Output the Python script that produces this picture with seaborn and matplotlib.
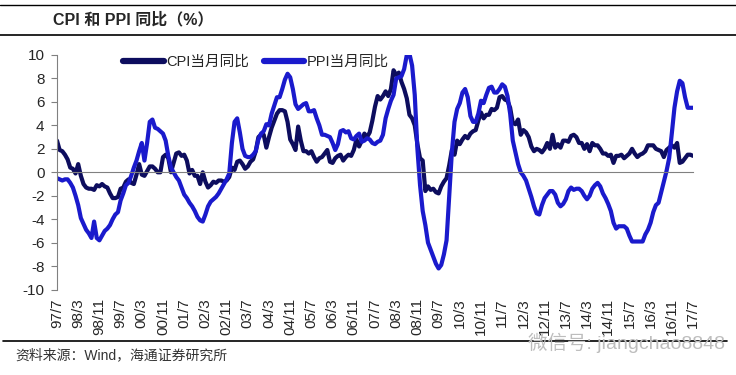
import matplotlib
matplotlib.use("Agg")
import pandas as pd
import matplotlib.pyplot as plt
import matplotlib.transforms as mtransforms
from matplotlib.lines import Line2D
import seaborn as sns

# 月度同比数据 1997/7 - 2017/7（%）
cpi = [
    2.7, 1.9, 1.8, 1.5, 1.1, 0.4,
    0.3, -0.1, 0.7, -0.3, -1.0, -1.3, -1.4, -1.4, -1.5, -1.1, -1.2, -1.0,
    -1.2, -1.3, -1.8, -2.2, -2.2, -2.1, -1.4, -1.3, -0.8, -0.6, -0.9, -1.0,
    -0.2, 0.7, -0.2, -0.3, 0.1, 0.5, 0.5, 0.3, 0.0, 0.0, 1.3, 1.5,
    1.2, 0.0, 0.8, 1.6, 1.7, 1.4, 1.5, 1.0, -0.1, 0.2, -0.3, -0.3,
    -1.0, 0.0, -0.8, -1.3, -1.1, -0.8, -0.9, -0.7, -0.7, -0.8, -0.7, -0.4,
    0.4, 0.2, 0.9, 1.0, 0.7, 0.3, 0.5, 0.9, 1.1, 1.8, 3.0, 3.2,
    3.2, 2.1, 3.0, 3.8, 4.4, 5.0, 5.3, 5.3, 5.2, 4.3, 2.8, 2.4,
    1.9, 3.9, 2.7, 1.8, 1.8, 1.6, 1.8, 1.3, 0.9, 1.2, 1.3, 1.6,
    1.9, 0.9, 0.8, 1.2, 1.4, 1.5, 1.0, 1.3, 1.5, 1.4, 1.9, 2.8,
    2.2, 2.7, 3.3, 3.0, 3.4, 4.4, 5.6, 6.5, 6.2, 6.5, 6.9, 6.5,
    7.1, 8.7, 8.3, 8.5, 7.7, 7.1, 6.3, 4.9, 4.6, 4.0, 2.4, 1.2,
    1.0, -1.6, -1.2, -1.5, -1.4, -1.7, -1.8, -1.2, -0.8, -0.5, 0.6, 1.9,
    1.5, 2.7, 2.4, 2.8, 3.1, 2.9, 3.3, 3.5, 3.6, 4.4, 5.1, 4.6,
    4.9, 4.9, 5.4, 5.3, 5.5, 6.4, 6.5, 6.2, 6.1, 5.5, 4.2, 4.1,
    4.5, 3.2, 3.6, 3.4, 3.0, 2.2, 1.8, 2.0, 1.9, 1.7, 2.0, 2.5,
    2.0, 3.2, 2.1, 2.4, 2.1, 2.7, 2.7, 2.6, 3.1, 3.2, 3.0, 2.5,
    2.5, 2.0, 2.4, 1.8, 2.5, 2.3, 2.3, 2.0, 1.6, 1.6, 1.4, 1.5,
    0.8, 1.4, 1.4, 1.5, 1.2, 1.4, 1.6, 2.0, 1.6, 1.3, 1.5, 1.6,
    1.8, 2.3, 2.3, 2.3, 2.0, 1.9, 1.8, 1.3, 1.9, 2.1, 2.3, 2.1,
    2.5, 0.8, 0.9, 1.2, 1.5, 1.5, 1.4,
]

ppi = [
    -0.5, -0.6, -0.7, -0.6, -0.6, -0.9,
    -1.3, -2.0, -2.8, -3.9, -4.4, -4.9, -5.2, -5.6, -4.2, -5.6, -5.8, -5.4,
    -5.0, -4.8, -4.5, -4.0, -3.6, -3.4, -2.4, -1.8, -1.1, -0.9, -0.3, 0.4,
    1.0, 1.8, 2.5, 1.0, 2.5, 4.3, 4.5, 3.8, 3.7, 3.5, 3.3, 2.7,
    1.4, 0.4, 0.0, -0.4, -0.7, -1.3, -1.9, -2.2, -2.6, -2.9, -3.3, -3.8,
    -4.1, -4.2, -3.6, -2.9, -2.5, -2.3, -2.1, -1.8, -1.4, -1.0, -0.6, -0.1,
    2.5, 4.3, 4.6, 3.4, 2.0, 1.4, 1.3, 1.3, 1.5, 1.8, 2.8, 3.3,
    3.5, 4.1, 4.0, 5.0, 5.7, 6.4, 6.4, 7.1, 7.9, 8.4, 8.1, 7.1,
    5.8, 5.4, 5.6, 5.8, 5.9, 5.2, 5.2, 5.3, 4.6, 4.0, 3.2, 3.2,
    3.1, 3.0, 2.5, 1.9, 2.4, 3.5, 3.6, 3.4, 3.5, 2.9, 2.8, 3.1,
    3.3, 2.6, 2.7, 2.9, 2.8, 2.5, 2.4, 2.6, 2.7, 3.2, 4.6, 5.4,
    6.1, 6.6, 8.0, 8.1, 8.2, 8.8, 10.0, 10.1, 9.1, 6.6, 2.0, -1.1,
    -3.3, -4.5, -6.0, -6.6, -7.2, -7.8, -8.2, -7.9, -7.0, -5.8, -2.1, 1.7,
    4.3, 5.4, 5.9, 6.8, 7.1, 6.4, 4.8, 4.3, 4.3, 5.0, 6.1, 5.9,
    6.6, 7.2, 7.3, 6.8, 6.8, 7.1, 7.5, 7.3, 6.5, 5.0, 2.7, 1.7,
    0.7, 0.0, -0.3, -0.7, -1.4, -2.1, -2.9, -3.5, -3.6, -2.8, -2.2, -1.9,
    -1.6, -1.6, -1.9, -2.6, -2.9, -2.7, -2.3, -1.6, -1.3, -1.5, -1.4, -1.4,
    -1.6, -2.0, -2.3, -2.0, -1.4, -1.1, -0.9, -1.2, -1.8, -2.2, -2.7, -3.3,
    -4.3, -4.8, -4.6, -4.6, -4.6, -4.8, -5.4, -5.9, -5.9, -5.9, -5.9, -5.9,
    -5.3, -4.9, -4.3, -3.4, -2.8, -2.6, -1.7, -0.8, 0.1, 1.2, 3.3, 5.5,
    6.9, 7.8, 7.6, 6.4, 5.5, 5.5, 5.5,
]

tick_labels = [
    "97/7", "98/3", "98/11", "99/7", "00/3", "00/11", "01/7", "02/3",
    "02/11", "03/7", "04/3", "04/11", "05/7", "06/3", "06/11", "07/7",
    "08/3", "08/11", "09/7", "10/3", "10/11", "11/7", "12/3", "12/11",
    "13/7", "14/3", "14/11", "15/7", "16/3", "16/11", "17/7",
]
tick_step = 8  # 每8个月一个刻度

sns.set_style("white")
plt.rcParams["font.family"] = ["Liberation Sans", "Noto Sans CJK SC"]
plt.rcParams["axes.unicode_minus"] = False

df = pd.DataFrame({"month": range(len(cpi)), "CPI当月同比": cpi, "PPI当月同比": ppi})
long_df = df.melt("month", var_name="series", value_name="value")

fig = plt.figure(figsize=(7.36, 3.75), dpi=100)
ax = fig.add_axes([57 / 736, 1 - 289.6 / 375, (693 - 57) / 736, (289.6 - 55) / 375])

colors = {"CPI当月同比": "#0d0d5e", "PPI当月同比": "#1a1acc"}
sns.lineplot(data=long_df, x="month", y="value", hue="series", palette=colors,
             linewidth=3.0, ax=ax)

ax.set_xlim(0, len(cpi) - 1)
ax.set_ylim(-10, 10)
ax.set_yticks(range(-10, 11, 2))
ax.set_xticks(range(0, len(cpi), tick_step))
ax.set_xlabel("")
ax.set_ylabel("")

for s in ["top", "right"]:
    ax.spines[s].set_visible(False)
ax.spines["left"].set_color("#808080")
ax.spines["bottom"].set_color("#808080")
ax.spines["bottom"].set_position(("data", 0))
ax.tick_params(axis="x", direction="out", length=4, color="#808080", labelbottom=False)
ax.tick_params(axis="y", direction="out", length=4, color="#808080", labelsize=11,
               pad=5, left=True)

trans = mtransforms.blended_transform_factory(ax.transData, ax.transAxes)
for i, lab in enumerate(tick_labels):
    ax.text(i * tick_step, -0.036, lab, transform=trans, rotation=90,
            ha="center", va="top", fontsize=11)

leg = ax.legend(loc="center left", bbox_to_anchor=(0.104, 0.97), ncol=2,
                frameon=False, fontsize=10.5, handlelength=2.8, handletextpad=0.15,
                columnspacing=1.0, borderpad=0, borderaxespad=0)
for h in leg.get_lines():
    h.set_linewidth(4.5)

fig.text(53 / 736, 1 - 20 / 375, "CPI 和 PPI 同比（%）", fontsize=11.5,
         fontweight="bold", va="center")
fig.add_artist(Line2D([0, 1], [1 - 4.5 / 375] * 2, color="black", lw=1.0,
                      transform=fig.transFigure))
fig.add_artist(Line2D([0, 1], [1 - 35 / 375] * 2, color="black", lw=1.2,
                      transform=fig.transFigure))
fig.add_artist(Line2D([3 / 736, 727 / 736], [1 - 341 / 375] * 2, color="black",
                      lw=1.2, transform=fig.transFigure))
fig.text(15 / 736, 1 - 355 / 375, "资料来源：Wind，海通证券研究所", fontsize=10,
         va="center", color="#333333")
fig.text(528 / 736, 1 - 343 / 375, "微信号: jiangchao8848", fontsize=14,
         va="center", color="#bdbdbd")

fig.savefig("out.png", dpi=100)
